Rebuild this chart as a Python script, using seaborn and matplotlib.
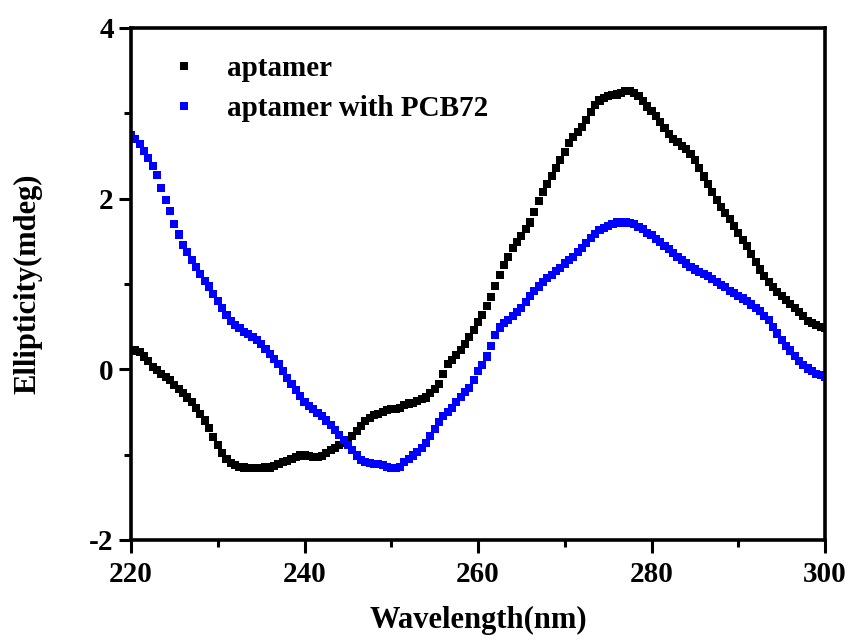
import numpy as np
import pandas as pd
import matplotlib
matplotlib.use("Agg")
import matplotlib.pyplot as plt
from matplotlib.ticker import MultipleLocator
import seaborn as sns

# wavelength grid (nm), 0.5 nm step
wavelength = np.arange(220, 300.5, 0.5)

# aptamer alone (mdeg)
aptamer = [
    0.22, 0.22, 0.20, 0.15, 0.10, 0.03, -0.01, -0.05, -0.09, -0.13,      # 220-224.5
    -0.18, -0.23, -0.28, -0.33, -0.38, -0.45, -0.52, -0.60, -0.69, -0.79,  # 225-229.5
    -0.89, -0.98, -1.05, -1.10, -1.12, -1.14, -1.15, -1.16, -1.16, -1.16,  # 230-234.5
    -1.16, -1.15, -1.15, -1.13, -1.11, -1.09, -1.07, -1.05, -1.03, -1.01,  # 235-239.5
    -1.01, -1.02, -1.03, -1.03, -1.02, -0.98, -0.95, -0.92, -0.89, -0.86,  # 240-244.5
    -0.84, -0.78, -0.72, -0.66, -0.61, -0.57, -0.54, -0.52, -0.50, -0.48,  # 245-249.5
    -0.47, -0.46, -0.45, -0.42, -0.40, -0.39, -0.37, -0.35, -0.33, -0.28,  # 250-254.5
    -0.23, -0.17, -0.05, 0.06, 0.11, 0.17, 0.23, 0.30, 0.38, 0.46,         # 255-259.5
    0.55, 0.64, 0.74, 0.85, 0.98, 1.11, 1.22, 1.32, 1.42, 1.49,            # 260-264.5
    1.56, 1.64, 1.72, 1.84, 1.97, 2.08, 2.17, 2.27, 2.36, 2.45,            # 265-269.5
    2.55, 2.65, 2.72, 2.78, 2.84, 2.92, 3.02, 3.10, 3.15, 3.18,            # 270-274.5
    3.20, 3.21, 3.22, 3.24, 3.26, 3.26, 3.24, 3.20, 3.14, 3.08,            # 275-279.5
    3.03, 2.97, 2.90, 2.83, 2.76, 2.70, 2.66, 2.62, 2.58, 2.52,            # 280-284.5
    2.45, 2.36, 2.26, 2.17, 2.08, 1.98, 1.90, 1.83, 1.76, 1.68,            # 285-289.5
    1.60, 1.52, 1.44, 1.35, 1.26, 1.17, 1.09, 1.02, 0.96, 0.91,            # 290-294.5
    0.86, 0.81, 0.77, 0.72, 0.67, 0.62, 0.57, 0.54, 0.52, 0.50,            # 295-299.5
    0.48,                                                                  # 300
]

# aptamer with PCB72 (mdeg)
aptamer_pcb72 = [
    2.74, 2.70, 2.64, 2.56, 2.48, 2.38, 2.28, 2.13, 1.98, 1.85,            # 220-224.5
    1.70, 1.58, 1.46, 1.37, 1.28, 1.20, 1.12, 1.04, 0.97, 0.88,            # 225-229.5
    0.80, 0.72, 0.64, 0.57, 0.52, 0.48, 0.44, 0.41, 0.38, 0.34,            # 230-234.5
    0.30, 0.24, 0.18, 0.12, 0.06, -0.02, -0.10, -0.17, -0.24, -0.31,       # 235-239.5
    -0.38, -0.43, -0.47, -0.51, -0.55, -0.60, -0.65, -0.71, -0.77, -0.83,  # 240-244.5
    -0.89, -0.95, -1.01, -1.06, -1.09, -1.10, -1.11, -1.11, -1.12, -1.14,  # 245-249.5
    -1.16, -1.16, -1.14, -1.09, -1.05, -1.01, -0.97, -0.92, -0.86, -0.78,  # 250-254.5
    -0.70, -0.62, -0.55, -0.50, -0.45, -0.38, -0.32, -0.27, -0.22, -0.12,  # 255-259.5
    -0.02, 0.05, 0.15, 0.27, 0.40, 0.49, 0.54, 0.58, 0.62, 0.67,           # 260-264.5
    0.72, 0.79, 0.86, 0.92, 0.97, 1.02, 1.07, 1.11, 1.15, 1.19,            # 265-269.5
    1.24, 1.28, 1.32, 1.37, 1.42, 1.48, 1.54, 1.59, 1.63, 1.66,            # 270-274.5
    1.68, 1.70, 1.72, 1.72, 1.72, 1.71, 1.70, 1.67, 1.64, 1.60,            # 275-279.5
    1.57, 1.53, 1.49, 1.45, 1.41, 1.36, 1.32, 1.28, 1.24, 1.20,            # 280-284.5
    1.17, 1.14, 1.12, 1.09, 1.06, 1.02, 0.99, 0.96, 0.92, 0.89,            # 285-289.5
    0.86, 0.83, 0.80, 0.76, 0.72, 0.68, 0.63, 0.58, 0.50, 0.42,            # 290-294.5
    0.34, 0.27, 0.22, 0.16, 0.10, 0.05, 0.01, -0.02, -0.05, -0.07,         # 295-299.5
    -0.09,                                                                 # 300
]

labels = ["aptamer", "aptamer with PCB72"]
colors = ["#000000", "#0000ff"]

df = pd.concat([
    pd.DataFrame({"Wavelength": wavelength, "Ellipticity": aptamer, "Sample": labels[0]}),
    pd.DataFrame({"Wavelength": wavelength, "Ellipticity": aptamer_pcb72, "Sample": labels[1]}),
])

sns.set_style("ticks")
plt.rcParams["font.family"] = ["Liberation Serif", "DejaVu Serif"]
plt.rcParams["font.weight"] = "bold"
plt.rcParams["axes.unicode_minus"] = False
plt.rcParams["text.color"] = "black"
plt.rcParams["axes.labelcolor"] = "black"
plt.rcParams["xtick.color"] = "black"
plt.rcParams["ytick.color"] = "black"
plt.rcParams["axes.edgecolor"] = "black"

fig = plt.figure(figsize=(8.52, 6.43), dpi=100)
ax = fig.add_axes([0.1538, 0.1602, 0.8145, 0.7963])

sns.scatterplot(data=df, x="Wavelength", y="Ellipticity", hue="Sample",
                palette=dict(zip(labels, colors)), marker="s", s=34,
                linewidth=0, ax=ax)

ax.set_xlim(220, 300)
ax.set_ylim(-2, 4)
ax.xaxis.set_major_locator(MultipleLocator(20))
ax.xaxis.set_minor_locator(MultipleLocator(10))
ax.yaxis.set_major_locator(MultipleLocator(2))
ax.yaxis.set_minor_locator(MultipleLocator(1))
ax.tick_params(which="major", direction="out", length=9, width=2.2,
               labelsize=21, top=False, right=False)
ax.tick_params(axis="x", which="major", pad=6)
ax.tick_params(which="minor", direction="out", length=5, width=2.2,
               top=False, right=False)
for side in ["left", "bottom", "top", "right"]:
    ax.spines[side].set_linewidth(2.6)

ax.set_xlabel("Wavelength(nm)", fontsize=22, fontweight="bold", labelpad=13)
ax.set_ylabel("Ellipticity(mdeg)", fontsize=22, fontweight="bold", labelpad=34)

ax.legend(loc="upper left", bbox_to_anchor=(0.038, 0.97), frameon=False,
          fontsize=21, handletextpad=1.0, labelspacing=0.45, markerscale=1.0,
          borderaxespad=0, handlelength=1.0)

plt.savefig("out.png", dpi=100)
